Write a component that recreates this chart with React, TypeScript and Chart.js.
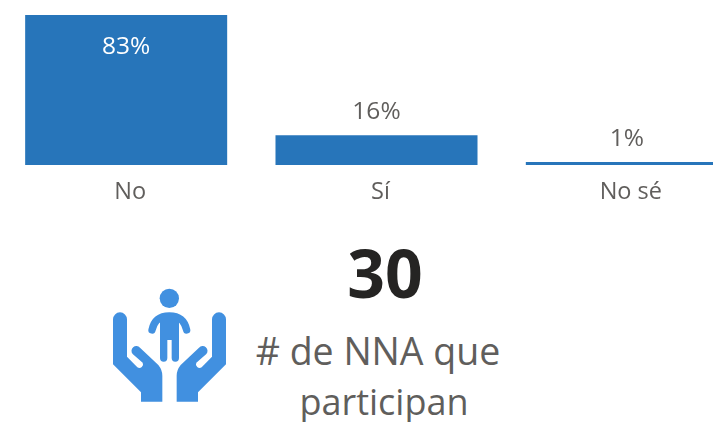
import React, { useEffect, useRef } from "react";
import { Chart, registerables } from "chart.js";

Chart.register(...registerables);

const categories = ["No", "Sí", "No sé"];
const barValues = [83, 16.5, 1.6];
const valueLabelTexts = ["83%", "16%", "1%"];
const kpiValue = "30";
const kpiLabelLines = ["# de NNA que", "participan"];

const FONT = '"Open Sans", sans-serif';
const BAR = "#2775BA";
const TEXT = "#605E5C";
const ICON = "#4190E0";

const valueLabels = {
  id: "valueLabels",
  afterDatasetsDraw(chart: any) {
    const { ctx } = chart;
    const meta = chart.getDatasetMeta(0);
    ctx.save();
    ctx.font = `24.5px ${FONT}`;
    ctx.textAlign = "center";
    ctx.textBaseline = "middle";
    meta.data.forEach((el: any, i: number) => {
      const inside = barValues[i] > 50;
      ctx.fillStyle = inside ? "#FFFFFF" : TEXT;
      ctx.fillText(valueLabelTexts[i], el.x, inside ? el.y + 32 : el.y - 23);
    });
    ctx.restore();
  },
};

function Hand() {
  return (
    <path
      fill={ICON}
      d="M69 268 A21 21 0 0 1 111 268 L111 380 L142 412 A11 11 0 0 0 158 398 L128 372 A14 14 0 0 1 150 353 L205 405 Q217 420 217 437 L217 515 L153 515 L153 487 L69 403 Z"
    />
  );
}

export default function App() {
  const ref = useRef<HTMLCanvasElement>(null);
  useEffect(() => {
    document.body.style.margin = "0";
    const chart = new Chart(ref.current!, {
      type: "bar",
      data: {
        labels: categories,
        datasets: [
          {
            data: barValues,
            backgroundColor: BAR,
            categoryPercentage: 1,
            barPercentage: 0.807,
          },
        ],
      },
      options: {
        responsive: false,
        animation: false,
        layout: { padding: { top: 15 } },
        plugins: { legend: { display: false }, tooltip: { enabled: false } },
        scales: {
          x: {
            grid: { display: false },
            border: { display: false },
            afterFit: (s: any) => {
              s.height = 55;
            },
            ticks: {
              color: TEXT,
              font: { family: FONT, size: 23.5 },
              padding: 5,
              labelOffset: 4,
              maxRotation: 0,
            },
          },
          y: { display: false, min: 0, max: 83 },
        },
      },
      plugins: [valueLabels],
    });
    return () => chart.destroy();
  }, []);

  const line = (text: string, cx: number, top: number, size: number, weight: number, color: string) => (
    <div
      style={{
        position: "absolute",
        left: cx - 200,
        width: 400,
        top,
        textAlign: "center",
        fontFamily: FONT,
        fontSize: size,
        fontWeight: weight,
        color,
        lineHeight: `${Math.round(size * 1.3)}px`,
        whiteSpace: "nowrap",
      }}
    >
      {text}
    </div>
  );

  return (
    <div style={{ position: "relative", width: 713, height: 422, overflow: "hidden", background: "#fff" }}>
      <canvas ref={ref} width={751} height={220} style={{ position: "absolute", left: 1, top: 0 }} />
      <svg
        style={{ position: "absolute", left: 90, top: 230 }}
        width={430}
        height={192}
        viewBox="0 0 1290 576"
      >
        <Hand />
        <g transform="translate(477,0) scale(-1,1)">
          <Hand />
        </g>
        <circle cx={238} cy={205} r={29} fill={ICON} />
        <path
          d="M186 300 Q195 258 238 258 Q281 258 290 300"
          fill="none"
          stroke={ICON}
          strokeWidth={22}
          strokeLinecap="round"
        />
        <path
          fill={ICON}
          d="M210 258 L210 384 A11 11 0 0 0 232 384 L232 330 L245 330 L245 384 A11 11 0 0 0 267 384 L267 258 Z"
        />
      </svg>
      {line(kpiValue, 385, 229, 66, 700, "#252423")}
      {line(kpiLabelLines[0], 378, 326, 37.5, 400, TEXT)}
      {line(kpiLabelLines[1], 384, 378, 36, 400, TEXT)}
    </div>
  );
}
